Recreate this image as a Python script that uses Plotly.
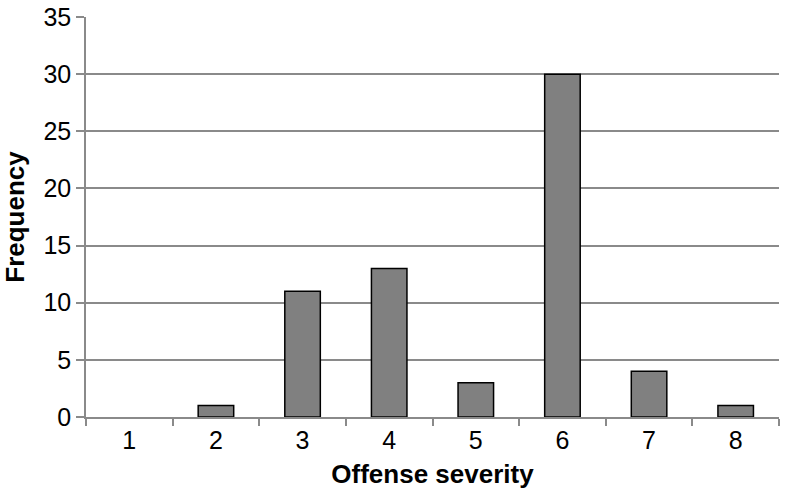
import plotly.graph_objects as go

categories = ["1", "2", "3", "4", "5", "6", "7", "8"]
frequency = [0, 1, 11, 13, 3, 30, 4, 1]
y_ticks = [0, 5, 10, 15, 20, 25, 30, 35]

font_family = "Liberation Sans, Arial, Helvetica, sans-serif"
grid_color = "#8a8a8a"

fig = go.Figure(
    go.Bar(
        x=categories,
        y=frequency,
        marker=dict(
            color="#808080",
            line=dict(color="black", width=[0 if v == 0 else 1.5 for v in frequency]),
        ),
    )
)

fig.update_layout(
    width=786,
    height=493,
    margin=dict(l=86, r=7, t=17, b=76),
    plot_bgcolor="white",
    paper_bgcolor="white",
    bargap=0.59,
    showlegend=False,
    font=dict(family=font_family, size=25, color="black"),
)

fig.update_xaxes(
    type="category",
    automargin=False,
    tickson="boundaries",
    ticks="outside",
    ticklen=7,
    tickwidth=1.5,
    tickcolor=grid_color,
    showline=True,
    linecolor=grid_color,
    linewidth=1.5,
    showgrid=False,
    ticklabeloverflow="allow",
    tickfont=dict(size=25),
    title=dict(text="<b>Offense severity</b>", font=dict(size=26), standoff=12),
)

fig.update_yaxes(
    automargin=False,
    range=[0, 35],
    tickvals=y_ticks,
    ticks="outside",
    ticklen=8,
    tickwidth=1.5,
    tickcolor=grid_color,
    showline=True,
    linecolor=grid_color,
    linewidth=1.5,
    showgrid=True,
    gridcolor=grid_color,
    gridwidth=1.5,
    zeroline=False,
    ticklabeloverflow="allow",
    tickfont=dict(size=25),
    title=dict(text="<b>Frequency</b>", font=dict(size=26), standoff=22),
)

fig.write_html(
    "out.html",
    config={"displayModeBar": False},
    post_script="document.body.style.margin='0';",
)
